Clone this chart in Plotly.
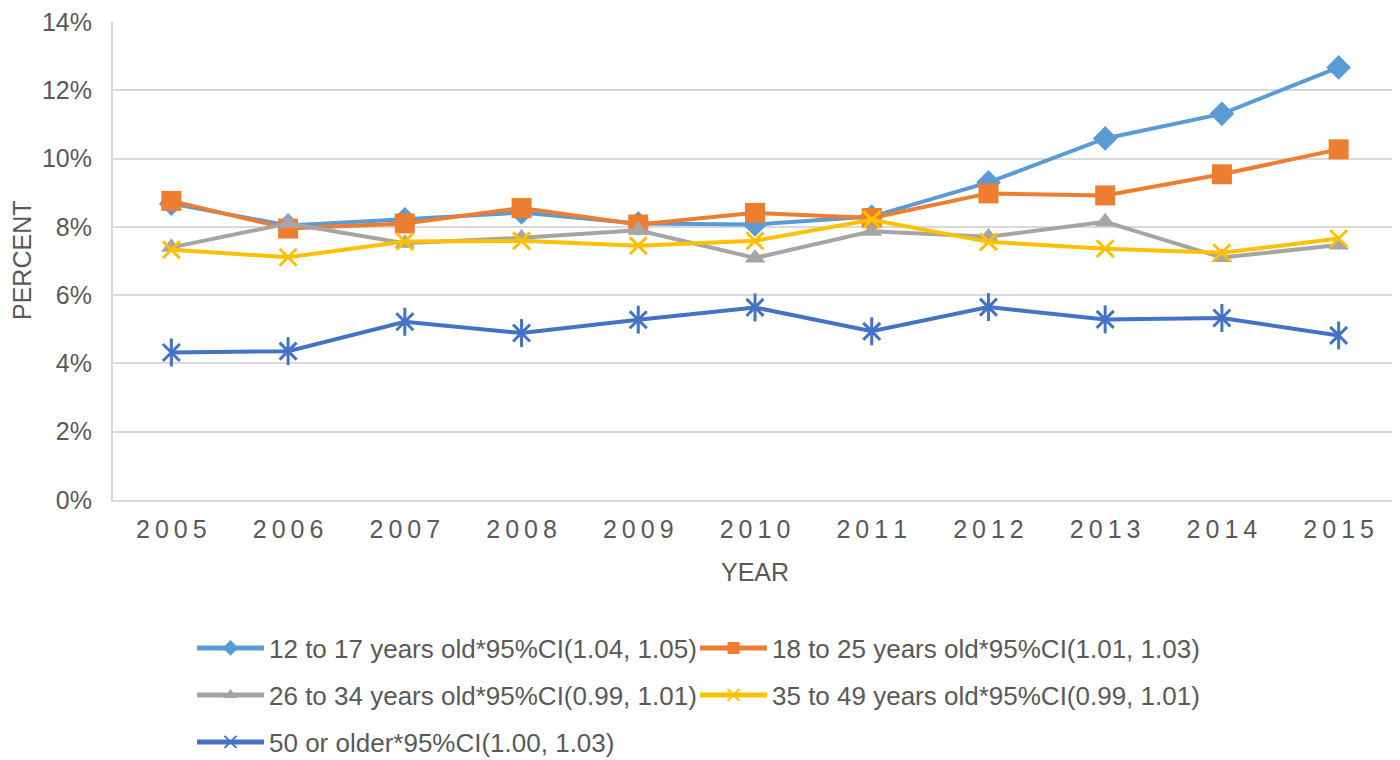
import plotly.graph_objects as go

# values (percent)
years = [2005, 2006, 2007, 2008, 2009, 2010, 2011, 2012, 2013, 2014, 2015]
age_12_17 = [8.68, 8.04, 8.22, 8.42, 8.10, 8.07, 8.30, 9.30, 10.59, 11.31, 12.67]
age_18_25 = [8.76, 7.95, 8.10, 8.55, 8.07, 8.41, 8.26, 8.98, 8.92, 9.54, 10.27]
age_26_34 = [7.40, 8.10, 7.52, 7.68, 7.90, 7.09, 7.87, 7.71, 8.15, 7.10, 7.47]
age_35_49 = [7.33, 7.11, 7.57, 7.59, 7.45, 7.59, 8.21, 7.56, 7.36, 7.24, 7.66]
age_50_up = [4.32, 4.36, 5.22, 4.89, 5.28, 5.64, 4.94, 5.65, 5.29, 5.33, 4.82]

names = [
    "12 to 17 years old*95%CI(1.04, 1.05)",
    "18 to 25 years old*95%CI(1.01, 1.03)",
    "26 to 34 years old*95%CI(0.99, 1.01)",
    "35 to 49 years old*95%CI(0.99, 1.01)",
    "50 or older*95%CI(1.00, 1.03)",
]
yticks = [0, 2, 4, 6, 8, 10, 12, 14]
ytick_labels = ["0%", "2%", "4%", "6%", "8%", "10%", "12%", "14%"]
# excel spaces out the year labels a bit
xtick_labels = ["\u2009".join(str(y)) for y in years]

FONT = "Liberation Sans, Arial, sans-serif"
GREY = "#595959"

# the page body has an 8px margin, so the figure is sized/placed to make up for it
W, H = 1392, 752
L, R, T, B = 105, 3, 14, 260

fig = go.Figure()

series = [
    (age_12_17, names[0], "#5B9BD5", "diamond", 19, "legend"),
    (age_18_25, names[1], "#ED7D31", "square", 20, "legend2"),
    (age_26_34, names[2], "#A5A5A5", "triangle-up", 18, "legend3"),
    (age_35_49, names[3], "#FFC000", "x-thin-open", 17, "legend4"),
    (age_50_up, names[4], "#4472C4", "x-thin-open", 17, "legend5"),
]
for vals, name, col, sym, size, leg in series:
    open_sym = sym.endswith("-open")
    fig.add_trace(go.Scatter(
        x=years, y=vals, name=name, mode="lines+markers",
        line=dict(color=col, width=4),
        marker=dict(symbol=sym, size=size, color=col,
                    line=dict(color=col, width=3 if open_sym else 0)),
        legend=leg, legendgroup=name,
    ))

# the 50+ marker is an x with a vertical bar through it
fig.add_trace(go.Scatter(
    x=years, y=age_50_up, mode="markers", showlegend=False, legendgroup=names[4],
    marker=dict(symbol="line-ns-open", size=20, color="#4472C4",
                line=dict(color="#4472C4", width=3)),
    hoverinfo="skip",
))

fig.update_layout(
    width=W, height=H,
    margin=dict(l=L, r=R, t=T, b=B),
    plot_bgcolor="white", paper_bgcolor="white",
    font=dict(family=FONT, color=GREY, size=26),
    xaxis=dict(
        range=[2004.5, 2015.5], tickmode="array", tickvals=years, ticktext=xtick_labels,
        showgrid=False, showline=True, linecolor="#D9D9D9", linewidth=2,
        ticks="", ticklabelstandoff=6, tickfont=dict(size=25, color=GREY),
        title=dict(text="YEAR", font=dict(size=25, color=GREY), standoff=21),
        automargin=False, ticklabeloverflow="allow",
    ),
    yaxis=dict(
        range=[0, 14], tickmode="array", tickvals=yticks, ticktext=ytick_labels,
        showgrid=True, gridcolor="#D9D9D9", gridwidth=2,
        showline=True, linecolor="#D9D9D9", linewidth=2, zeroline=False,
        ticks="", ticklabelstandoff=14, tickfont=dict(size=25, color=GREY),
        automargin=False, ticklabeloverflow="allow",
    ),
)

# y title as an annotation so it can sit right at the left edge
fig.add_annotation(
    text="PERCENT", textangle=-90, showarrow=False,
    xref="paper", yref="paper", x=(14 - L) / (W - L - R), y=0.5,
    xanchor="center", yanchor="middle",
    font=dict(size=25, color=GREY),
)

leg_common = dict(orientation="h", xref="container", yref="container",
                  xanchor="left", yanchor="middle", itemwidth=67,
                  itemsizing="constant",
                  font=dict(size=26, color=GREY), bgcolor="rgba(0,0,0,0)")
col1, col2 = 184 / W, 687 / W
row1, row2, row3 = (H - 640) / H, (H - 687) / H, (H - 734) / H
fig.update_layout(
    legend=dict(x=col1, y=row1, **leg_common),
    legend2=dict(x=col2, y=row1, **leg_common),
    legend3=dict(x=col1, y=row2, **leg_common),
    legend4=dict(x=col2, y=row2, **leg_common),
    legend5=dict(x=col1, y=row3, **leg_common),
)

fig.write_html("out.html")
